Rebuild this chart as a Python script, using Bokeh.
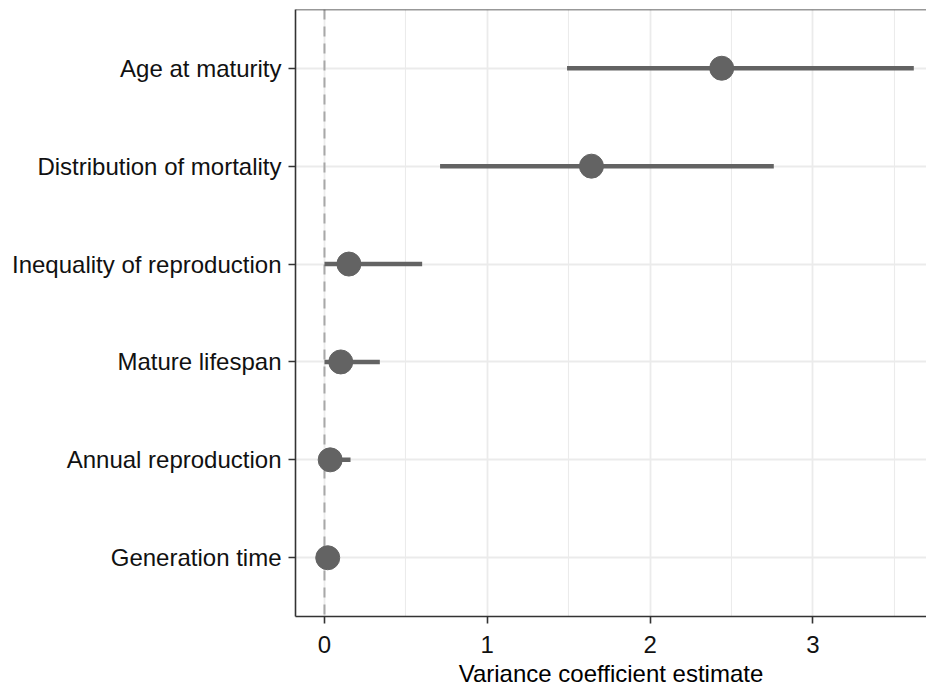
from bokeh.plotting import figure
from bokeh.models import ColumnDataSource, FixedTicker, Span
from bokeh.embed import file_html
from bokeh.resources import INLINE

# ---- data (top to bottom) ----
categories = ["Age at maturity", "Distribution of mortality", "Inequality of reproduction",
              "Mature lifespan", "Annual reproduction", "Generation time"]
estimate = [2.44, 1.64, 0.15, 0.10, 0.035, 0.02]
lower = [1.49, 0.71, 0.0, 0.0, 0.0, 0.0]
upper = [3.62, 2.76, 0.60, 0.34, 0.16, 0.05]
x_ticks = [0, 1, 2, 3]
x_minor = [0.5, 1.5, 2.5, 3.5]
x_title = "Variance coefficient estimate"

n = len(categories)
ypos = [n - i for i in range(n)]
src = ColumnDataSource(dict(cat=categories, y=ypos, est=estimate, lo=lower, hi=upper))

FONT = "Liberation Sans"
BORDER = "#333333"
GRID = "#EBEBEB"
MARK = "#636363"

p = figure(frame_width=631, frame_height=607,
           x_range=(-0.178, 3.698), y_range=(0.4, n + 0.6),
           output_backend="svg", toolbar_location=None,
           min_border_left=295, min_border_top=9, min_border_right=0)
p.outline_line_color = None
p.background_fill_color = "white"

# grid
p.xgrid.ticker = FixedTicker(ticks=x_ticks, minor_ticks=x_minor)
p.xgrid.grid_line_color = GRID
p.xgrid.grid_line_width = 1.8
p.xgrid.minor_grid_line_color = GRID
p.xgrid.minor_grid_line_width = 1.1
p.ygrid.ticker = FixedTicker(ticks=ypos)
p.ygrid.grid_line_color = GRID
p.ygrid.grid_line_width = 1.8

# reference line at zero
p.add_layout(Span(location=0, dimension="height", line_color="#A8A8A8",
                  line_width=2, line_dash="10 7", level="underlay"))
# top border of panel
p.add_layout(Span(location=n + 0.6, dimension="width", line_color=BORDER,
                  line_width=1.6))

# intervals and points
p.segment(x0="lo", y0="y", x1="hi", y1="y", source=src, line_color=MARK, line_width=4.5)
p.scatter(x="est", y="y", source=src, size=24, fill_color=MARK, line_color=MARK)

# x axis
xa = p.xaxis[0]
xa.ticker = FixedTicker(ticks=x_ticks, minor_ticks=[])
xa.axis_label = x_title
xa.axis_label_text_font = FONT
xa.axis_label_text_font_size = "24px"
xa.axis_label_text_font_style = "normal"
xa.axis_label_text_color = "black"
xa.axis_label_standoff = 4
xa.major_label_text_font = FONT
xa.major_label_text_font_size = "24px"
xa.major_label_text_color = "#111111"
xa.major_label_standoff = 12
xa.major_tick_in = 0
xa.major_tick_out = 7
xa.major_tick_line_color = BORDER
xa.major_tick_line_width = 1.6
xa.minor_tick_line_color = None
xa.axis_line_color = BORDER
xa.axis_line_width = 1.6

# y axis
ya = p.yaxis[0]
ya.ticker = FixedTicker(ticks=ypos, minor_ticks=[])
ya.major_label_overrides = {y: c for y, c in zip(ypos, categories)}
ya.major_label_text_font = FONT
ya.major_label_text_font_size = "24px"
ya.major_label_text_color = "#111111"
ya.major_label_standoff = 7
ya.major_tick_in = 0
ya.major_tick_out = 7
ya.major_tick_line_color = BORDER
ya.major_tick_line_width = 1.6
ya.minor_tick_line_color = None
ya.axis_line_color = BORDER
ya.axis_line_width = 1.6

open("out.html", "w").write(file_html(p, INLINE))
